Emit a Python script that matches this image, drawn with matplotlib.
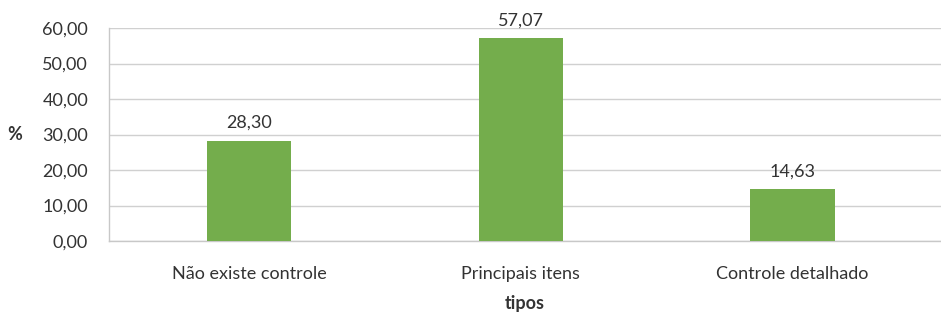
import matplotlib
matplotlib.use("Agg")
import matplotlib.pyplot as plt
from matplotlib.ticker import FuncFormatter

tipos = ["Não existe controle", "Principais itens", "Controle detalhado"]
percentuais = [28.30, 57.07, 14.63]
yticks = [0, 10, 20, 30, 40, 50, 60]

plt.rcParams['font.family'] = ['Lato', 'DejaVu Sans']
texto = '#333333'
tam = 13

fig = plt.figure(figsize=(9.41, 3.14), dpi=100)
ax = fig.add_axes([109 / 941, 73 / 314, 832 / 941, 213 / 314])

x = list(range(len(tipos)))
ax.bar(x, percentuais, width=0.31, color='#74AD4C', zorder=3)

for xi, v in zip(x, percentuais):
    ax.annotate(f"{v:.2f}".replace('.', ','), (xi, v), xytext=(0, 7),
                textcoords='offset points', ha='center', va='bottom',
                fontsize=tam, color=texto)

ax.set_xlim(-0.515, 2.546)
ax.set_ylim(0, 60)
ax.set_yticks(yticks)
ax.yaxis.set_major_formatter(FuncFormatter(lambda v, p: f"{v:.2f}".replace('.', ',')))
ax.set_xticks(x)
ax.set_xticklabels(tipos)
ax.tick_params(axis='both', length=0, labelsize=tam, colors=texto)
ax.tick_params(axis='x', pad=18)
ax.tick_params(axis='y', pad=15)

ax.grid(axis='y', color='#D0D0D0', linewidth=1, zorder=0)
for s in ['top', 'right']:
    ax.spines[s].set_visible(False)
for s in ['left', 'bottom']:
    ax.spines[s].set_color('#C8C8C8')
    ax.spines[s].set_linewidth(1)

ax.set_xlabel("tipos", fontsize=tam, fontweight='bold', color=texto, labelpad=9)
fig.text(15 / 941, 1 - 135 / 314, "%", fontsize=tam, fontweight='bold',
         color=texto, ha='center', va='center')

fig.savefig("out.png", dpi=100)
